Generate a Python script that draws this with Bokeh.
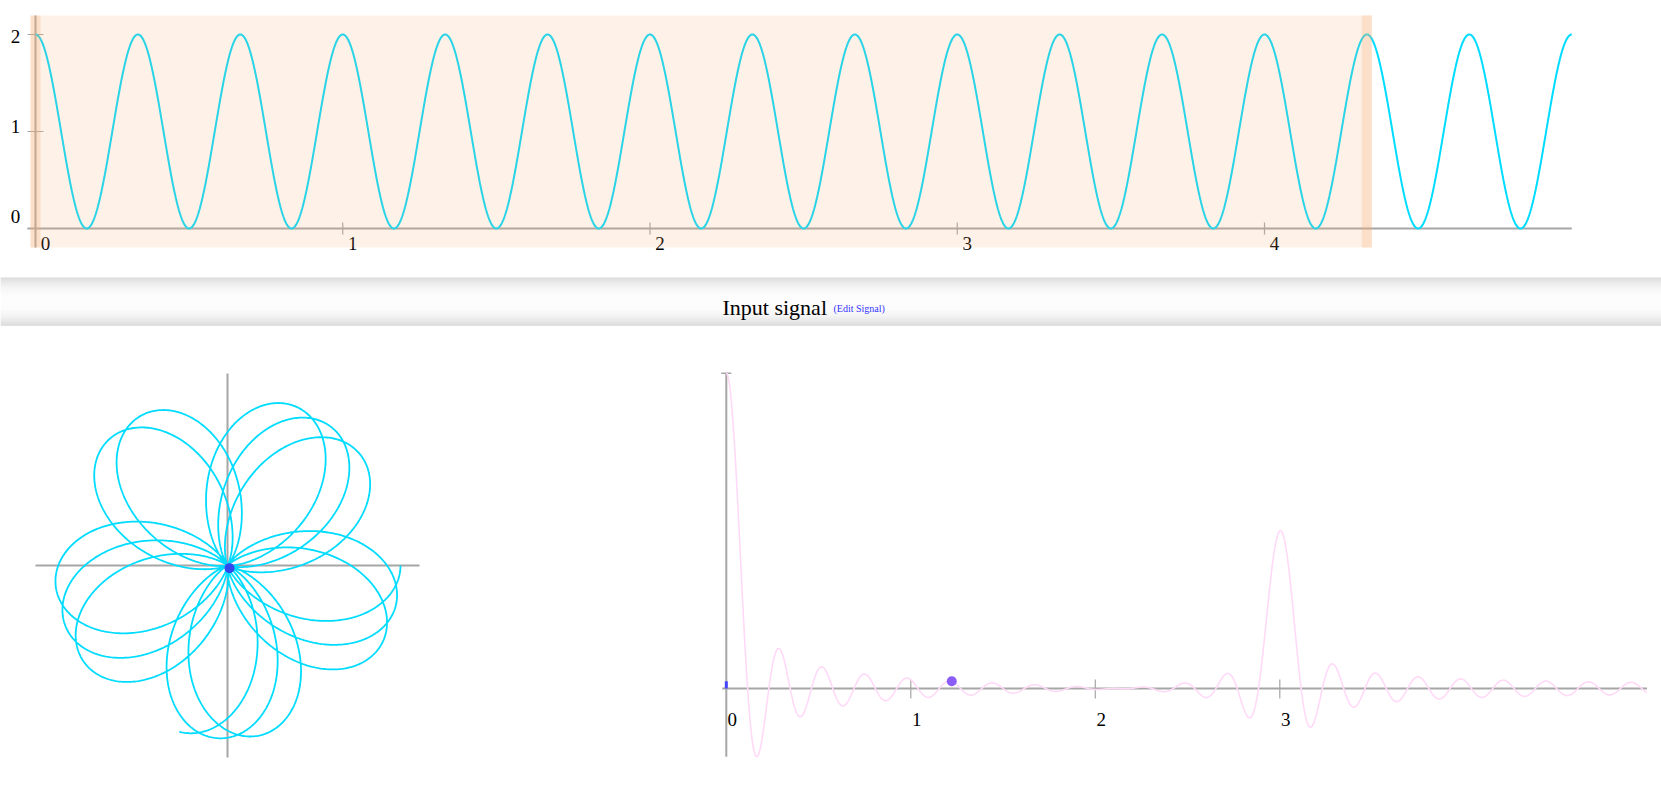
import numpy as np
from bokeh.plotting import figure
from bokeh.layouts import column, row
from bokeh.models import Range1d
from bokeh.embed import file_html
from bokeh.resources import INLINE
from bokeh.core.properties import value

# ---------------- data ----------------
signal_frequency = 3.0        # Hz: a peak every 1/3 s
signal_offset = 1.0           # signal oscillates between 0 and 2
signal_amplitude = 1.0
signal_duration = 5.0         # seconds shown
window_end = 4.333            # right edge of shaded analysis window
winding_frequency = 1.222     # current winding frequency (purple dot)
freq_max = 4.99               # end of frequency axis
time_ticks = [0, 1, 2, 3, 4]
time_tick_labels = ["0", "1", "2", "3", "4"]
value_ticks = [0, 1, 2]
value_tick_labels = ["0", "1", "2"]
freq_ticks = [0, 1, 2, 3]
freq_tick_labels = ["0", "1", "2", "3"]
panel_title = "Input signal"
edit_link = "(Edit Signal)"

# ---------------- derived series ----------------
t_full = np.linspace(0, signal_duration, 3001)
g_full = signal_offset + signal_amplitude * np.cos(2 * np.pi * signal_frequency * t_full)

t_win = np.linspace(0, window_end, 4001)
g_win = signal_offset + signal_amplitude * np.cos(2 * np.pi * signal_frequency * t_win)
wind_x = g_win * np.cos(2 * np.pi * winding_frequency * t_win)
wind_y = -g_win * np.sin(2 * np.pi * winding_frequency * t_win)
com_x = np.trapezoid(wind_x, t_win) / window_end
com_y = np.trapezoid(wind_y, t_win) / window_end

freqs = np.linspace(0, freq_max, 1500)
re_part = np.trapezoid(g_win[None, :] * np.cos(2 * np.pi * freqs[:, None] * t_win[None, :]),
                       t_win, axis=1) / window_end

# ---------------- styles ----------------
CYAN = "#00dcff"
AXIS = "#a6a6a6"
FONT = value("Liberation Serif")
W = 1661


def make_fig(w, h, xr, yr):
    p = figure(width=w, height=h, x_range=Range1d(*xr), y_range=Range1d(*yr),
               x_axis_type=None, y_axis_type=None, toolbar_location=None,
               output_backend="svg", min_border=0)
    p.outline_line_color = None
    p.background_fill_color = "white"
    p.border_fill_color = "white"
    p.grid.visible = False
    return p


def rng(origin_px, scale, size_px, flip=False):
    # origin_px measured from left (or from top if flip)
    if flip:
        return (-(size_px - origin_px) / scale, origin_px / scale)
    return (-origin_px / scale, (size_px - origin_px) / scale)


# ---------------- top: input signal ----------------
H_TOP = 262
sx, sy = 307.25, 97.0
top = make_fig(W, H_TOP, rng(35, sx, W), rng(228, sy, H_TOP, flip=True))
pad_x = 5 / sx
shade_top, shade_bot = 2.196, -0.196

top.segment(x0=[-8 / sx], y0=[0], x1=[t_full[-1]], y1=[0], line_color=AXIS, line_width=2)
top.segment(x0=[0], y0=[shade_bot], x1=[0], y1=[shade_top], line_color=AXIS, line_width=2)
top.segment(x0=[-8 / sx] * len(value_ticks), y0=value_ticks,
            x1=[8 / sx] * len(value_ticks), y1=value_ticks, line_color=AXIS, line_width=1.2)
top.segment(x0=time_ticks, y0=[-6 / sy] * len(time_ticks),
            x1=time_ticks, y1=[6 / sy] * len(time_ticks), line_color=AXIS, line_width=1.2)
top.line(t_full, g_full, line_color=CYAN, line_width=2)

top.text(x=[-20 / sx] * len(value_ticks),
         y=[v * 90 / 97 + 12 / sy for v in value_ticks],
         text=value_tick_labels, text_font=FONT, text_font_size=value("19px"),
         text_align="center", text_baseline="middle", text_color="black")
top.text(x=[v + 10 / sx for v in time_ticks], y=[-15 / sy] * len(time_ticks),
         text=time_tick_labels, text_font=FONT, text_font_size=value("19px"),
         text_align="center", text_baseline="middle", text_color="black")

top.quad(left=[-pad_x], right=[window_end + pad_x], bottom=[shade_bot], top=[shade_top],
         fill_color="#f7aa6e", fill_alpha=0.17, line_color=None)
top.quad(left=[-pad_x, window_end - pad_x], right=[pad_x, window_end + pad_x],
         bottom=[shade_bot] * 2, top=[shade_top] * 2,
         fill_color="#f7aa6e", fill_alpha=0.25, line_color=None)

# ---------------- middle: title bar ----------------
H_MID = 68
mid = make_fig(W, H_MID, (0, W), (262 + H_MID, 262))
ys = np.arange(277, 325, 1.0)
cols = []
for yv in ys:
    s = abs(yv + 0.5 - 301) / 24.0
    c = int(round(253 - 40 * s ** 2.4))
    cols.append("#%02x%02x%02x" % (c, c, c))
mid.quad(left=[0] * len(ys), right=[W] * len(ys), bottom=list(ys + 1.15), top=list(ys),
         fill_color=cols, line_color=None)
mid.text(x=[722], y=[307], text=[panel_title], text_font=FONT, text_font_size=value("22px"),
         text_align="left", text_baseline="alphabetic", text_color="black")
mid.text(x=[833], y=[308], text=[edit_link], text_font=FONT, text_font_size=value("10px"),
         text_align="left", text_baseline="alphabetic", text_color="#3333ff")

# ---------------- bottom-left: winding ----------------
H_BOT = 455
WL = 690
ws = 86.5
left = make_fig(WL, H_BOT, rng(227, ws, WL), rng(235, ws, H_BOT, flip=True))
ax = 2.22
left.segment(x0=[-ax, 0], y0=[0, -ax], x1=[ax, 0], y1=[0, ax], line_color=AXIS, line_width=2)
left.line(wind_x, wind_y, line_color=CYAN, line_width=1.8)
left.segment(x0=[0], y0=[0], x1=[com_x], y1=[com_y], line_color="#b0206a", line_width=2)
left.scatter(x=[com_x], y=[com_y], size=10, fill_color="#3347f0", line_color=None)

# ---------------- bottom-right: frequency transform ----------------
WR = W - WL
fx, fy = 184.5, 315.3
right = make_fig(WR, H_BOT, rng(725.8 - WL, fx, WR), rng(358, fy, H_BOT, flip=True))
right.segment(x0=[-4 / fx], y0=[0], x1=[freq_max], y1=[0], line_color=AXIS, line_width=2)
right.segment(x0=[0], y0=[re_part.min()], x1=[0], y1=[re_part.max()], line_color=AXIS, line_width=2)
right.segment(x0=[-5 / fx], y0=[re_part.max()], x1=[5 / fx], y1=[re_part.max()],
              line_color=AXIS, line_width=1.5)
right.segment(x0=freq_ticks[1:], y0=[-10 / fy] * 3, x1=freq_ticks[1:], y1=[9 / fy] * 3,
              line_color=AXIS, line_width=1.2)
right.line(freqs, re_part, line_color="#ffdaf8", line_width=1.6)
re_now = np.trapezoid(g_win * np.cos(2 * np.pi * winding_frequency * t_win), t_win) / window_end
right.segment(x0=[0], y0=[0], x1=[0], y1=[re_now], line_color="#4444ff", line_width=3)
right.scatter(x=[winding_frequency], y=[re_now], size=10, fill_color="#8b5cf6", line_color=None)
right.text(x=[v + 6 / fx for v in freq_ticks], y=[-31 / fy] * len(freq_ticks),
           text=freq_tick_labels, text_font=FONT, text_font_size=value("19px"),
           text_align="center", text_baseline="middle", text_color="black")

layout = column(top, mid, row(left, right, spacing=0), spacing=0)
open("out.html", "w").write(file_html(layout, INLINE))
